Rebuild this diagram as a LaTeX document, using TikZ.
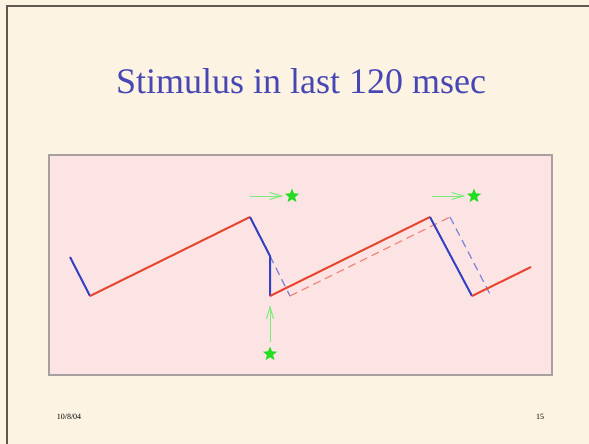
\documentclass[tikz,border=0pt]{standalone}
\usepackage{fontspec}
\setmainfont{Liberation Serif}
\usetikzlibrary{arrows.meta,shapes.geometric}
\definecolor{slidebg}{HTML}{FDF3E2}
\definecolor{panelbg}{HTML}{FDE4E4}
\definecolor{panelrule}{HTML}{A8A0A0}
\definecolor{framerule}{HTML}{5E5850}
\definecolor{headblue}{HTML}{4646B4}
\definecolor{risered}{HTML}{E8452E}
\definecolor{fallblue}{HTML}{3440C4}
\definecolor{cuegreen}{HTML}{22DD22}
\tikzset{
  rise/.style={color=risered, line width=2pt},
  fall/.style={color=fallblue, line width=2pt},
  shifted/.style={line width=1.2pt, dash pattern=on 8pt off 5pt},
  cue/.style={star, star points=5, star point ratio=2.3, fill=cuegreen,
    inner sep=0pt, minimum size=15pt},
  push/.style={color=cuegreen!60, line width=1pt,
    -{Straight Barb[length=12pt,width=7pt]}}
}
\begin{document}
\begin{tikzpicture}[x=1pt,y=-1pt]
    \useasboundingbox[fill=slidebg] (0,0) rectangle (589,444);
    \draw [framerule, line width=1.8pt] (7,444) -- (7,6) -- (589,6);
    \node [headblue, font=\fontsize{36}{40}\selectfont, anchor=base] (head) at (301,93) {Stimulus in last 120 msec};
    \draw [panelrule, fill=panelbg, line width=1.4pt] (49,155) rectangle (552,375);
    % trace corners
    \coordinate (b0) at (70,257);
    \coordinate (v1) at (90,296);
    \coordinate (t1) at (250,217);
    \coordinate (k1) at (270,256);
    \coordinate (v2) at (270,296);
    \coordinate (w2) at (290,296);
    \coordinate (t2) at (430,217);
    \coordinate (u2) at (450,217);
    \coordinate (v3) at (472,296);
    \coordinate (w3) at (491,296);
    \coordinate (e3) at (531,267);
    % shifted trace
    \draw [shifted, fallblue!65] (k1) -- (w2);
    \draw [shifted, risered!65] (w2) -- (u2);
    \draw [shifted, fallblue!65] (u2) -- (w3);
    % trace
    \draw [fall] (b0) -- (v1);
    \draw [rise] (v1) -- (t1);
    \draw [fall] (t1) -- (k1) -- (v2);
    \draw [rise] (v2) -- (t2);
    \draw [fall] (t2) -- (v3);
    \draw [rise] (v3) -- (e3);
    % stimuli
    \coordinate (a1) at (250,196);
    \coordinate (a2) at (432,196);
    \node [cue] (s1) at (292,196) {};
    \node [cue] (s2) at (474,196) {};
    \node [cue] (s3) at (270,354) {};
    \draw [push, shorten >=4pt] (a1) -- (s1);
    \draw [push, shorten >=4pt] (a2) -- (s2);
    \draw [push, shorten <=4pt, shorten >=9pt] (s3) -- (v2);
    \node [font=\fontsize{8}{10}\selectfont] (date) at (69,417) {10/8/04};
    \node [font=\fontsize{8}{10}\selectfont] (page) at (540,417) {15};
\end{tikzpicture}
\end{document}
